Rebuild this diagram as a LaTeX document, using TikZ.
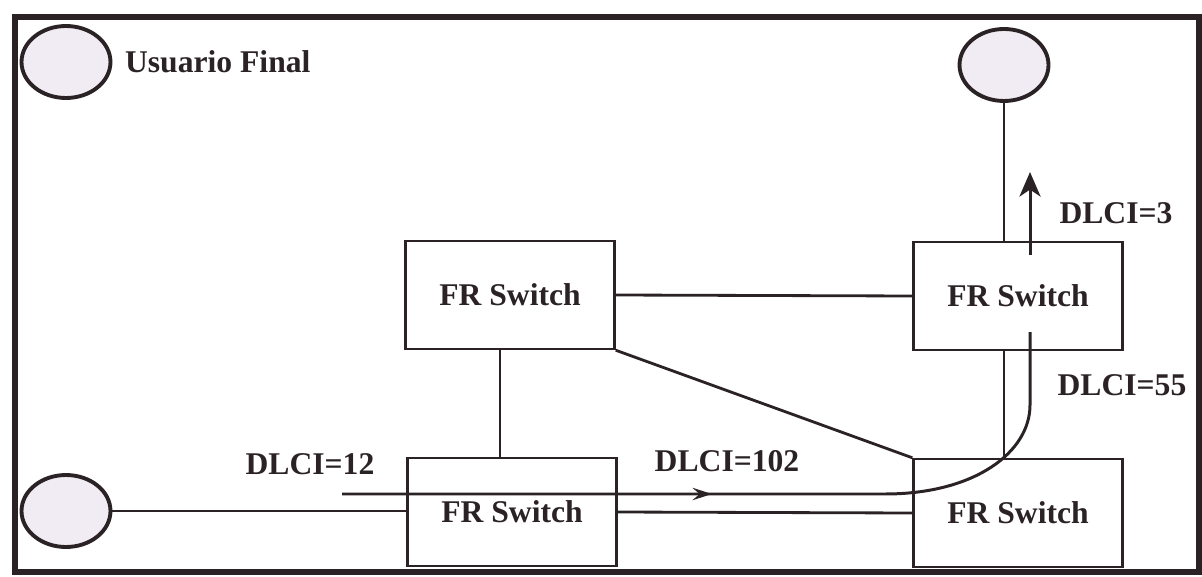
\documentclass[tikz,border=0pt]{standalone}
\usepackage{fontspec}
\setmainfont{Liberation Serif}
\usetikzlibrary{positioning, shapes.geometric, arrows.meta, calc, decorations.markings}

\definecolor{ink}{HTML}{2A2224}
\definecolor{userfill}{HTML}{F1ECF3}

\begin{document}
\begin{tikzpicture}[
    x=0.02cm, y=-0.02cm,
    % ── node styles ─────────────────────────────────────────
    switch/.style = { draw=ink, line width=1.4pt, minimum width=4.18cm,
            minimum height=2.16cm, inner sep=0pt, font=\fontsize{18}{20}\bfseries, text=ink, },
    user/.style = { draw=ink, ellipse, line width=2.2pt, fill=userfill,
            minimum width=1.78cm, minimum height=1.44cm, inner sep=0pt, },
    dlci/.style = {font=\fontsize{18}{20}\bfseries, text=ink, inner sep=0pt},
    link/.style = {draw=ink, line width=1.6pt},
    vc/.style = {draw=ink, line width=1.7pt},
    midarrow/.style = {postaction={decorate}, decoration={markings,
            mark=at position 7.4cm with {\arrow{Stealth[length=11pt, width=7pt, inset=4pt]}}}},
    frame/.style = {draw=ink, line width=3pt},
    ]

    \useasboundingbox (0,0) rectangle (1202,577);
    \draw[frame] (15,17) rectangle (1199,572);

    % ============================================================
    % END USERS
    % ============================================================
    \node[user] (userTL) at (66,62) {};
    \node[user] (userTR) at (1004,65) {};
    \node[user] (userBL) at (66,511) {};

    \node[dlci, right=7pt of userTL] (legend) {Usuario Final};

    % ============================================================
    % FR SWITCHES
    % ============================================================
    \node[switch] (swTM) at (510,295) {FR Switch};
    \node[switch] (swTR) at (1018,296) {FR Switch};
    \node[switch] (swBM) at (512,512) {FR Switch};
    \node[switch] (swBR) at (1018,513) {FR Switch};

    % ============================================================
    % TRUNKS AND ACCESS LINES
    % ============================================================
    \draw[link] (swTM.east) -- (swTR.west);
    \draw[link] ([xshift=-2mm]swTM.south) -- ([xshift=-2mm]swTM.south |- swBM.north);
    \draw[link] (swTM.south east) -- (swBR.north west);
    \draw[link] (swBM.east) -- (swBR.west);
    \draw[link] (userBL.east) -- (userBL.east -| swBM.west);
    \draw[link] (userTR.south) -- (userTR.south |- swTR.north);
    \draw[link] (userTR.south |- swTR.south) -- (userTR.south |- swBR.north);

    % ============================================================
    % VIRTUAL CIRCUIT
    % ============================================================
    \coordinate (vcIn) at (342,494);
    \coordinate (vcBend) at (885,494);
    \coordinate (vcUp) at (1030,405);
    \coordinate (vcHide) at (1030,332);
    \coordinate (vcShow) at (1030,255);
    \coordinate (vcOut) at (1030,172);

    \draw[vc, midarrow]
    (vcIn) -- (vcBend) .. controls (975,494) and (1030,452) .. (vcUp) -- (vcHide);
    \draw[vc, -{Stealth[length=14pt, width=12pt, inset=4pt]}] (vcShow) -- (vcOut);

    % ============================================================
    % DLCI LABELS
    % ============================================================
    \node[dlci] (dlci12) at (310,464) {DLCI=12};
    \node[dlci] (dlci102) at (727,461) {DLCI=102};
    \node[dlci] (dlci55) at (1122,385) {DLCI=55};
    \node[dlci] (dlci3) at (1116,213) {DLCI=3};

\end{tikzpicture}
\end{document}
